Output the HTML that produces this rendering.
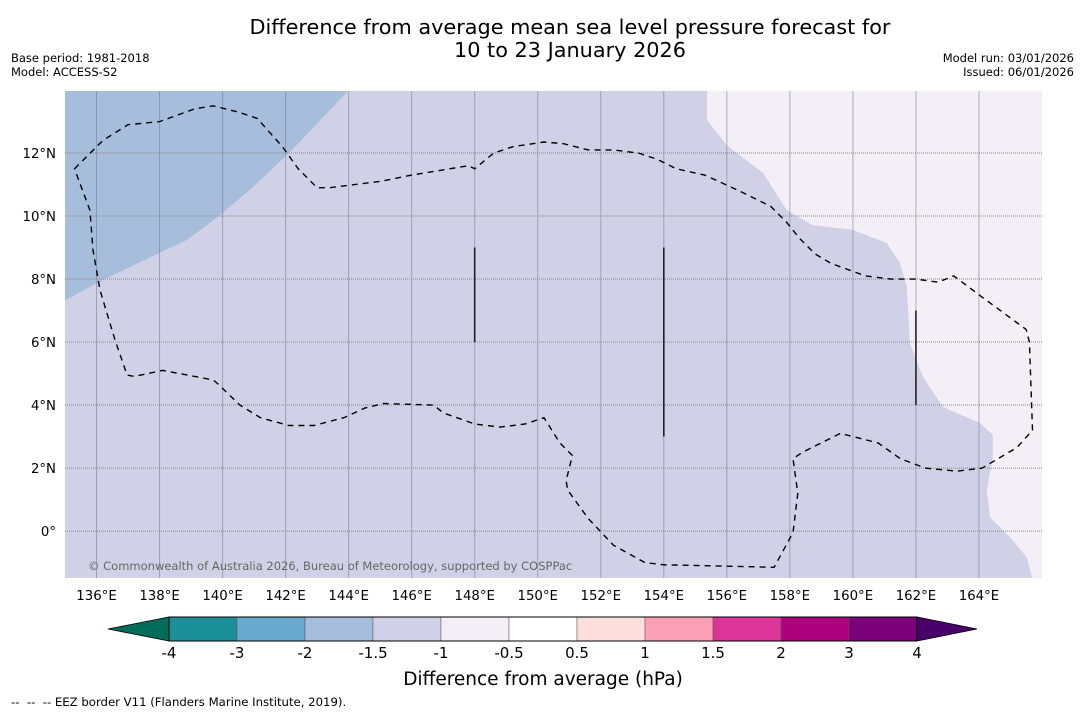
<!DOCTYPE html>
<html><head><meta charset="utf-8"><style>
html,body{margin:0;padding:0;background:#fff;}
body{width:1085px;height:713px;overflow:hidden;font-family:"DejaVu Sans","Liberation Sans",sans-serif;}
</style></head><body>
<svg id="chart" width="1085" height="713" viewBox="0 0 1085 713" xmlns="http://www.w3.org/2000/svg" font-family="DejaVu Sans, Liberation Sans, sans-serif">
<text x="570" y="34" text-anchor="middle" font-size="20.8" fill="#000">Difference from average mean sea level pressure forecast for</text>
<text x="570" y="57" text-anchor="middle" font-size="20.8" fill="#000">10 to 23 January 2026</text>
<text x="11" y="62" font-size="11.5">Base period: 1981-2018</text>
<text x="11" y="76" font-size="11.5">Model: ACCESS-S2</text>
<text x="1074" y="62" font-size="11.5" text-anchor="end">Model run: 03/01/2026</text>
<text x="1074" y="76" font-size="11.5" text-anchor="end">Issued: 06/01/2026</text>
<defs><clipPath id="plotclip"><rect x="65" y="91" width="977" height="487"/></clipPath></defs>
<g id="map" clip-path="url(#plotclip)"></g>
<g id="axes"></g>
<g id="cbar"></g>
<text x="543" y="685" text-anchor="middle" font-size="18.5">Difference from average (hPa)</text>
<text x="11" y="706" font-size="11.7" xml:space="preserve">--  --  -- EEZ border V11 (Flanders Marine Institute, 2019).</text>
</svg>
<script>
// Axis data
const lonTicks = [136,138,140,142,144,146,148,150,152,154,156,158,160,162,164];
const latTicks = [0,2,4,6,8,10,12];
const cbarLevels = ["-4","-3","-2","-1.5","-1","-0.5","0.5","1","1.5","2","3","4"];
const cbarColors = ["#1c9099","#67a9cf","#a6bddb","#d0d1e6","#f4eef6","#ffffff","#fde0dd","#fa9fb5","#dd3497","#ae017e","#7a0177"];
const extendColors = ["#026c5a","#49006a"];
// Contour / region data in lon,lat
const darkRegion = [[135,7.33],[136.2,7.97],[138,8.83],[138.87,9.24],[139.92,10.03],[140.96,10.92],[142.14,12.03],[144.1,14.1],[135,14.1]];
const lightRegion = [[166.1,14.1],[155.37,14.1],[155.37,13.05],[156.0,12.25],[157.15,11.37],[157.9,10.19],[158.73,9.71],[160.0,9.56],[161.08,9.14],[161.49,8.51],[161.71,7.75],[161.81,5.97],[162.22,4.89],[162.86,3.94],[164.03,3.43],[164.44,3.05],[164.44,2.35],[164.25,1.3],[164.35,0.44],[164.98,-0.19],[165.52,-0.83],[165.71,-1.6],[166.1,-1.6]];
const eez = [[135.3,11.5],[135.8,12.0],[136.2,12.4],[137.0,12.9],[138.0,13.0],[139.1,13.4],[139.7,13.5],[140.5,13.3],[141.1,13.1],[141.9,12.2],[142.4,11.5],[143.0,10.9],[143.4,10.9],[145.0,11.1],[146.0,11.3],[147.8,11.6],[148.0,11.5],[148.6,12.0],[149.2,12.2],[150.2,12.35],[150.8,12.3],[151.6,12.1],[152.4,12.1],[153.2,12.0],[153.8,11.8],[154.4,11.5],[155.3,11.3],[156.4,10.8],[157.4,10.3],[157.9,9.8],[158.3,9.3],[158.8,8.8],[159.3,8.5],[160.4,8.1],[161.2,8.0],[162.0,8.0],[162.7,7.9],[163.2,8.1],[164.0,7.5],[165.5,6.4],[165.6,6.0],[165.7,3.2],[165.2,2.65],[164.1,2.0],[163.3,1.9],[162.3,2.0],[161.5,2.3],[160.8,2.8],[159.6,3.1],[158.4,2.5],[158.1,2.3],[158.25,1.2],[158.1,-0.05],[157.5,-1.15],[154.0,-1.07],[153.4,-1.0],[152.4,-0.45],[151.6,0.4],[150.95,1.3],[150.9,1.6],[151.1,2.4],[150.7,2.8],[150.2,3.6],[149.6,3.4],[148.8,3.3],[148.0,3.4],[147.0,3.75],[146.7,4.0],[145.1,4.05],[144.5,3.9],[143.85,3.6],[142.9,3.35],[142.1,3.35],[141.2,3.6],[140.55,4.0],[139.82,4.7],[139.7,4.8],[138.1,5.1],[137.2,4.91],[136.97,4.95],[136.59,6.06],[136.11,7.65],[135.89,8.92],[135.79,10.19],[135.3,11.5]];
const boundarySegments = [[148,9,6],[154,9,3],[162,7,4]];

const NS="http://www.w3.org/2000/svg";
const x0=65,x1=1042,y0=91,y1=578,lonMin=135,lonMax=166,latMin=-1.49,latMax=13.97;
const X=lon=>x0+(lon-lonMin)/(lonMax-lonMin)*(x1-x0);
const Y=lat=>y1-(lat-latMin)/(latMax-latMin)*(y1-y0);
function mk(tag,attrs,parent){const e=document.createElementNS(NS,tag);for(const k in attrs)e.setAttribute(k,attrs[k]);parent.appendChild(e);return e;}
const map=document.getElementById('map'),axes=document.getElementById('axes'),cb=document.getElementById('cbar');
const pts=a=>a.map(p=>X(p[0]).toFixed(1)+','+Y(p[1]).toFixed(1)).join(' ');

let bg=mk('rect',{x:x0,y:y0,width:x1-x0,height:y1-y0,fill:'#d0d1e6'},map);


let dr=mk('polygon',{points:pts(darkRegion),fill:'#a6bddb'},map);


let lr=mk('polygon',{points:pts(lightRegion),fill:'#f4eef6'},map);



lonTicks.forEach(l=>{
  let g=mk('line',{x1:X(l),x2:X(l),y1:y0,y2:y1,stroke:'rgba(110,120,150,0.55)','stroke-width':1},map);
  
  
  let t=mk('text',{x:X(l),y:600,'text-anchor':'middle','font-size':13.3},axes);
  t.textContent=l+'°E';
  
  
});
latTicks.forEach(l=>{
  let g=mk('line',{x1:x0,x2:x1,y1:Y(l),y2:Y(l),stroke:'#888','stroke-width':1,'stroke-dasharray':'1,1'},map);
  
  
  let t=mk('text',{x:56,y:Y(l)+5,'text-anchor':'end','font-size':13.3},axes);
  t.textContent=l===0?'0°':l+'°N';
  
  
});
let ez=mk('polygon',{points:pts(eez),fill:'none',stroke:'#000','stroke-width':1.4,'stroke-dasharray':'6,5'},map);


boundarySegments.forEach(s=>{
  let l=mk('line',{x1:X(s[0]),x2:X(s[0]),y1:Y(s[1]),y2:Y(s[2]),stroke:'#222','stroke-width':1.6},map);
  
  
});
let cr=mk('text',{x:88,y:570,'font-size':11.5,fill:'#666'},map);
cr.textContent='© Commonwealth of Australia 2026, Bureau of Meteorology, supported by COSPPac';



// colorbar
const cx0=169,cx1=917,cy0=617,cy1=641,n=cbarColors.length,w=(cx1-cx0)/n;
let tl=mk('polygon',{points:`108,629 ${cx0},${cy0} ${cx0},${cy1}`,fill:extendColors[0],stroke:'#000','stroke-width':0.8},cb);


let tr=mk('polygon',{points:`977,629 ${cx1},${cy0} ${cx1},${cy1}`,fill:extendColors[1],stroke:'#000','stroke-width':0.8},cb);


cbarColors.forEach((c,i)=>{
  let r=mk('rect',{x:cx0+i*w,y:cy0,width:w,height:cy1-cy0,fill:c,stroke:'#555','stroke-width':0.5},cb);
  
  
});
mk('rect',{x:cx0,y:cy0,width:cx1-cx0,height:cy1-cy0,fill:'none',stroke:'#000','stroke-width':1},cb);
cbarLevels.forEach((v,i)=>{
  let t=mk('text',{x:cx0+i*w,y:658,'text-anchor':'middle','font-size':15},cb);
  t.textContent=v;
  
  
});
</script>
</body></html>
